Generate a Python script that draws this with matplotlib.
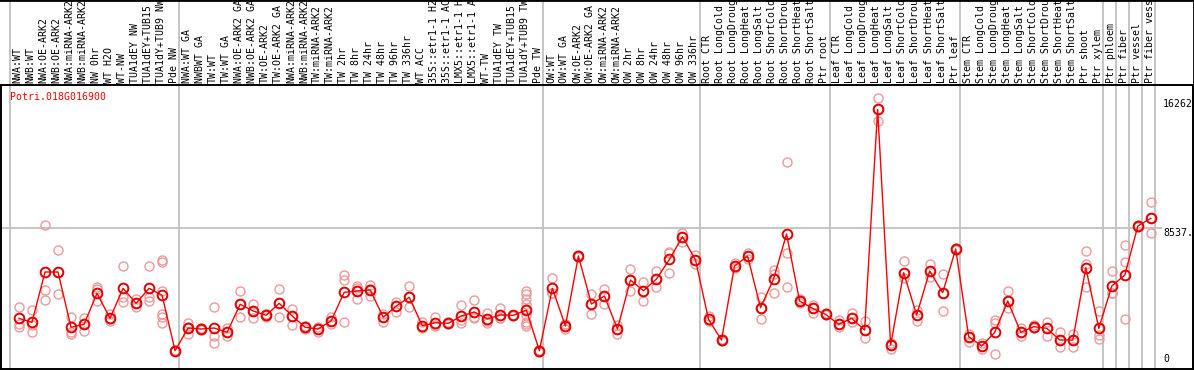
import numpy as np
import matplotlib.pyplot as plt
from matplotlib.lines import Line2D

# sample names, in plot order
samples = ["NWA:WT", "NWB:WT", "NWA:OE-ARK2", "NWB:OE-ARK2", "NWA:miRNA-ARK2", "NWB:miRNA-ARK2",
           "NW 0hr", "WT H2O", "WT-NW", "TUA1dEY NW", "TUA1dEY+TUB15 NW", "TUA1dY+TUB9 NW", "Pde NW",
           "NWA:WT GA", "NWBWT GA", "TW:WT", "TW:WT GA", "NWA:OE-ARK2 GA", "NWB:OE-ARK2 GA",
           "TW:OE-ARK2", "TW:OE-ARK2 GA", "NWA:miRNA-ARK2", "NWB:miRNA-ARK2", "TW:miRNA-ARK2",
           "TW:miRNA-ARK2", "TW 2hr", "TW 8hr", "TW 24hr", "TW 48hr", "TW 96hr", "TW 336hr",
           "WT ACC", "35S::etr1-1 H2O", "35S::etr1-1 ACC", "LMX5::etr1-1 H2O", "LMX5::etr1-1 ACC",
           "WT-TW", "TUA1dEY TW", "TUA1dEY+TUB15 TW", "TUA1dY+TUB9 TW", "Pde TW",
           "OW:WT", "OW:WT GA", "OW:OE-ARK2", "OW:OE-ARK2 GA", "OW:miRNA-ARK2", "OW:miRNA-ARK2",
           "OW 2hr", "OW 8hr", "OW 24hr", "OW 48hr", "OW 96hr", "OW 336hr",
           "Root CTR", "Root LongCold", "Root LongDrought", "Root LongHeat", "Root LongSalt",
           "Root ShortCold", "Root ShortDrought", "Root ShortHeat", "Root ShortSalt", "Ptr root",
           "Leaf CTR", "Leaf LongCold", "Leaf LongDrought", "Leaf LongHeat", "Leaf LongSalt",
           "Leaf ShortCold", "Leaf ShortDrought", "Leaf ShortHeat", "Leaf ShortSalt", "Ptr leaf",
           "Stem CTR", "Stem LongCold", "Stem LongDrought", "Stem LongHeat", "Stem LongSalt",
           "Stem ShortCold", "Stem ShortDrought", "Stem ShortHeat", "Stem ShortSalt", "Ptr shoot",
           "Ptr xylem", "Ptr phloem", "Ptr fiber", "Ptr vessel", "Ptr fiber vessel"]

# group boundaries (sample index where a new group starts)
group_edges = [0, 13, 41, 53, 63, 73, 84, 85, 86, 87, 88]

means = [2652, 2391, 5670, 5670, 2066, 2261, 4281, 2652, 4607, 3630, 4607, 4151, 541,
         2020, 1955, 2020, 1740, 3565, 3128, 2848, 3630, 2802, 2066, 1955, 2496, 4347, 4432,
         4497, 2718, 3454, 4021, 2170, 2366, 2326, 2802, 3063, 2607, 2867, 2848, 3193, 541,
         4607, 2151, 6713, 3584, 4106, 1955, 5148, 4451, 5214, 6497, 7970, 6452,
         2587, 1238, 6061, 6713, 3343, 5214, 8146, 3780, 3300, 2913,
         2261, 2652, 1890, 16262, 912, 5625, 2867, 5735, 4323, 7169,
         1455, 847, 1740, 3780, 1740, 2105, 2000, 1238, 1238, 5952, 2000,
         4757, 5474, 8667, 9169]

reps = [[3408, 2281, 2105], [3193, 2240, 1740], [8733, 4477, 3845], [7104, 4216, 5690],
        [2757, 1740, 1629], [2652, 1844, 2261], [4714, 4542, 3800], [2933, 2587, 2450],
        [6061, 4060, 3734], [3891, 3369, 3630], [6061, 4021, 3800],
        [6452, 6321, 4451, 2933, 2718, 2326], [600, 500, 520],
        [2326, 2100, 1629], [2000, 1955, 1900], [3408, 1499, 1023], [2000, 1740, 1499],
        [4432, 3565, 2718], [3584, 3128, 2652], [2933, 2848, 2750], [4542, 3630, 2718],
        [3258, 2802, 2216], [2150, 2066, 1980], [2100, 1955, 1779], [2757, 2496, 2281],
        [5474, 5148, 2391], [4757, 4600, 3891], [4823, 4540, 4125], [2913, 2718, 2431],
        [3734, 3454, 3083], [4757, 4021, 3369], [2431, 2100, 2000], [2757, 2200, 2151],
        [2400, 2326, 2250], [3519, 2521, 2366], [3845, 2718, 2652], [2978, 2500, 2326],
        [3300, 2650, 2652], [2900, 2848, 2800],
        [4451, 4236, 3891, 3584, 3258, 2867, 2431, 2281, 2151], [600, 541, 480],
        [5259, 4281, 4300], [2250, 1935, 2250], [6800, 6713, 6650], [4216, 3584, 2913],
        [4562, 4106, 3565], [2216, 1955, 1610], [5846, 5148, 4432], [4998, 4451, 3780],
        [5735, 5214, 4673], [6993, 6888, 5585], [8192, 7970, 7645], [6778, 6452, 6191],
        [2802, 2500, 2450], [1300, 1238, 1180], [6276, 6061, 5911], [6928, 6713, 6497],
        [4060, 3343, 2607], [5800, 5560, 4281], [12838, 6888, 4714], [3891, 3780, 3650],
        [3519, 3300, 2978], [2980, 2913, 2850],
        [2542, 2261, 2100], [2978, 2652, 2431], [2496, 1890, 1349], [16990, 16262, 15520],
        [1050, 912, 630], [6387, 5625, 5259], [3193, 2867, 2496], [6170, 5735, 5364],
        [5539, 4323, 3128], [7250, 7169, 7100],
        [1629, 1455, 1128], [1023, 847, 630], [2542, 2366, 306], [4432, 3780, 3300],
        [2000, 1740, 1499], [2200, 2105, 2000], [2431, 2000, 1518], [1779, 1238, 802],
        [1629, 1238, 802], [7038, 6170, 4673], [3150, 1564, 1284],
        [5735, 4281, 4300], [7429, 6341, 2607], [8750, 8667, 8600], [10212, 9169, 8192]]

gene = "Potri.018G016900"
ytick_vals = [16262, 8537.5, 0]
ytick_text = ["16262", "8537.5", "0"]

W, H = 1194, 370
mono = "DejaVu Sans Mono"
grey = "#c0c0c0"

fig = plt.figure(figsize=(W / 100, H / 100), dpi=100)
ax = fig.add_axes([1 / W, 1 / H, 1192 / W, 284 / H])

# one cell per sample, 13 px wide, first cell starts 10 px from the left
px_x = 13.01
px_y = 8537.5 / 131
ax.set_xlim(-9 / px_x, 1183 / px_x)
ax.set_ylim(-10 * px_y, 274 * px_y)

x = np.arange(len(samples)) + 0.69

# group separators run up through the label area
for e in group_edges:
    ax.axvline(e, ymin=0, ymax=1.31, color=grey, lw=1.3, clip_on=False, zorder=0)
ax.hlines(8537.5, -1, 88.55, color=grey, lw=1.3, zorder=0)

for xi, r in zip(x, reps):
    ax.plot([xi] * len(r), r, "o", mfc="none", mec="#eb9b9b", ms=6.5, mew=1.0, zorder=2)
ax.plot(x, means, "-", color="red", lw=1.0, zorder=3)
ax.plot(x, means, "o", mfc="none", mec="#e00000", ms=7, mew=1.4, zorder=4)

# sample labels, clipped by the top of the figure
for i, s in enumerate(samples):
    ax.text(i + 0.6, 1 + 2 / 284, s, transform=ax.get_xaxis_transform(), rotation=90,
            ha="center", va="bottom", family=mono, fontsize=7.1, clip_on=False)

ax.text(9 / 1192, 1 - 12 / 284, gene, transform=ax.transAxes, color="red",
        family=mono, fontsize=7.1, va="center", ha="left")

vas = ["bottom", "top", "center"]
for v, t, va in zip(ytick_vals, ytick_text, vas):
    ax.text(1153 / px_x, v, t, family=mono, fontsize=7.1, ha="left", va=va, clip_on=True)

ax.set_xticks([])
ax.set_yticks([])
for sp in ax.spines.values():
    sp.set_linewidth(1.4)

# outer border: top edge and right edge only
fig.add_artist(Line2D([0, 1], [1, 1], transform=fig.transFigure, color="black", lw=2))
fig.add_artist(Line2D([1, 1], [0, 1], transform=fig.transFigure, color="black", lw=2))

fig.savefig("out.png", dpi=100)
